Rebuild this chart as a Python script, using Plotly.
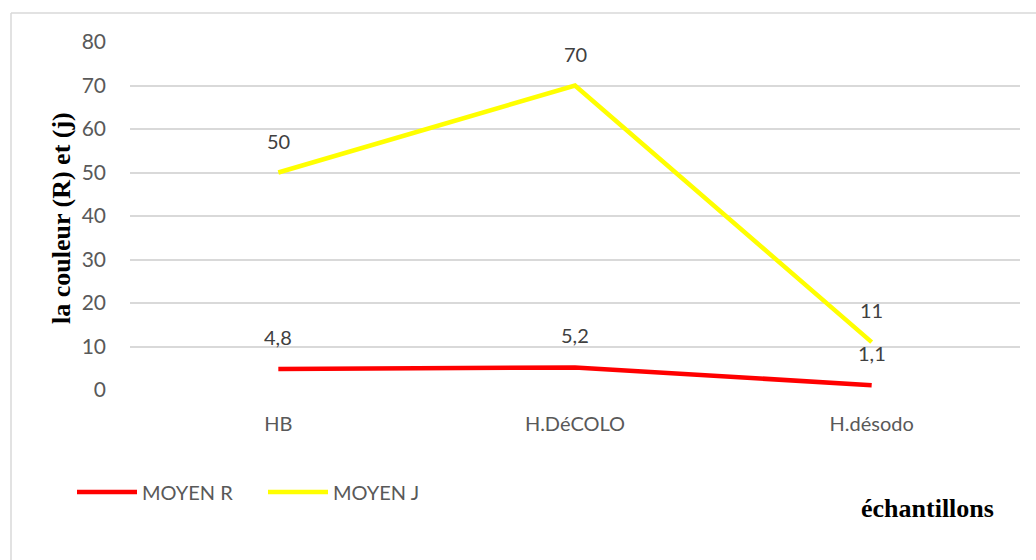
import plotly.graph_objects as go

categories = ["HB", "H.DéCOLO", "H.désodo"]
moyen_r = [4.8, 5.2, 1.1]
moyen_j = [50, 70, 11]
series_names = ["MOYEN R", "MOYEN J"]
y_ticks = [0, 10, 20, 30, 40, 50, 60, 70, 80]

FONT = "Lato, 'Open Sans', sans-serif"
SERIF = "'Liberation Serif', 'Times New Roman', serif"
GREY = "#595959"

fig = go.Figure()
for name, vals, col in [(series_names[0], moyen_r, "#FF0000"), (series_names[1], moyen_j, "#FFFF00")]:
    fig.add_trace(go.Scatter(x=categories, y=vals, mode="lines", name=name,
                             line=dict(color=col, width=4.5)))
    for c, v in zip(categories, vals):
        fig.add_annotation(x=c, y=v, text=f"{v:g}".replace(".", ","), showarrow=False,
                           yshift=32, font=dict(family=FONT, size=20, color="#404040"))

L, R, T, B = 130, 16, 42, 170
W, H = 1036, 560
pw, ph = W - L - R, H - T - B

def px(x):
    return (x - L) / pw

def py(y):
    return (H - B - y) / ph

fig.update_layout(
    width=W, height=H,
    margin=dict(l=L, r=R, t=T, b=B),
    paper_bgcolor="white", plot_bgcolor="white",
    showlegend=True,
    legend=dict(orientation="h", x=px(72), y=py(492), xanchor="left", yanchor="middle",
                font=dict(family=FONT, size=20, color=GREY), itemwidth=60,
                entrywidth=116, entrywidthmode="pixels", traceorder="normal"),
    xaxis=dict(type="category", range=[-0.5, 2.5], showgrid=False, zeroline=False,
               showline=False, ticks="", tickfont=dict(family=FONT, size=20, color=GREY),
               ticklabelstandoff=20),
    yaxis=dict(range=[0, 80], tickvals=y_ticks, showgrid=True, gridcolor="#D9D9D9",
               gridwidth=1.5, zeroline=False, showline=False, ticks="",
               tickfont=dict(family=FONT, size=21, color=GREY), ticklabelstandoff=23),
)

fig.add_annotation(xref="paper", yref="paper", x=px(61), y=py(218), text="<b>la couleur (R) et (j)</b>",
                   textangle=-90, showarrow=False, xanchor="center", yanchor="middle",
                   font=dict(family=SERIF, size=26, color="black"))
fig.add_annotation(xref="paper", yref="paper", x=px(927), y=py(508), text="<b>échantillons</b>",
                   showarrow=False, xanchor="center", yanchor="middle",
                   font=dict(family=SERIF, size=26, color="black"))

# chart border
fig.add_shape(type="line", xref="paper", yref="paper", x0=px(11), x1=px(11), y0=py(13), y1=py(570),
              line=dict(color="#D9D9D9", width=1.5))
fig.add_shape(type="line", xref="paper", yref="paper", x0=px(11), x1=px(1050), y0=py(13), y1=py(13),
              line=dict(color="#D9D9D9", width=1.5))

fig.write_html("out.html")
